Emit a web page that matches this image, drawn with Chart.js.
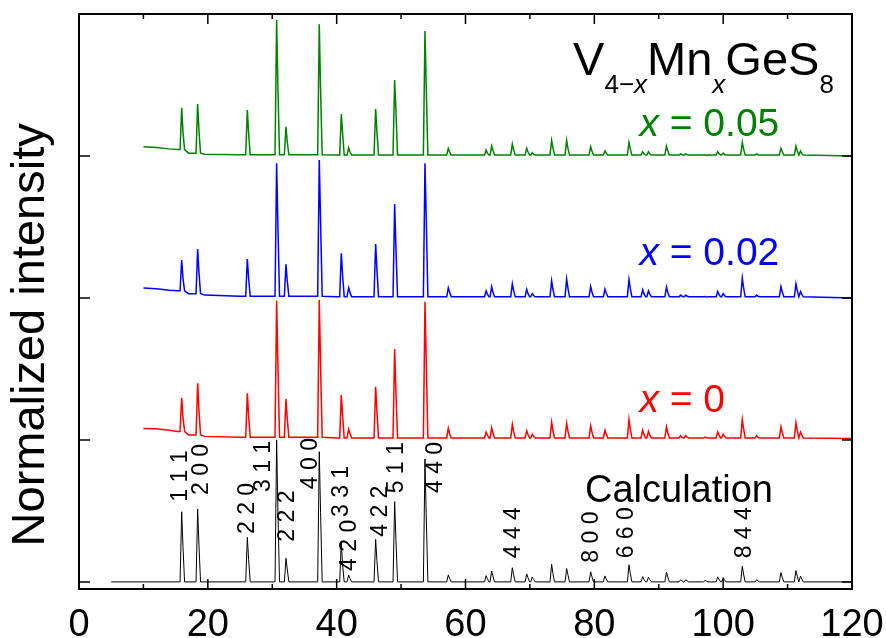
<!DOCTYPE html>
<html>
<head>
<meta charset="utf-8">
<script src="https://cdn.jsdelivr.net/npm/chart.js@4.4.0/dist/chart.umd.min.js"></script>
<style>
  html, body { margin: 0; padding: 0; background: #fff; }
</style>
</head>
<body>
<canvas id="xrd" width="886" height="638"></canvas>
<script>
// Bragg peak positions, 2theta (deg)
const twoTheta = [15.94, 18.42, 26.13, 30.68, 32.13, 37.30, 40.72, 41.86, 46.05, 49.00, 53.71, 57.33,
  63.20, 64.06, 67.27, 69.50, 70.37, 73.37, 75.70, 79.43, 81.65, 85.38, 87.50, 88.40, 91.20, 93.40,
  94.20, 97.20, 99.15, 100.00, 102.97, 105.20, 108.97, 111.30, 112.00];

// calculated pattern: peak top and K-alpha2 shoulder
const calcHeight = [0.494, 0.513, 0.314, 1.000, 0.166, 0.917, 0.283, 0.049, 0.300, 0.565, 0.866, 0.049,
  0.044, 0.077, 0.100, 0.056, 0.033, 0.124, 0.094, 0.071, 0.042, 0.120, 0.037, 0.033, 0.068, 0.015,
  0.015, 0.010, 0.035, 0.030, 0.110, 0.015, 0.065, 0.080, 0.040];
const calcShoulder = [0.25, 0.26, 0.16, 0.50, 0.09, 0.49, 0.12, 0.025, 0.15, 0.30, 0.45, 0.025,
  0.022, 0.04, 0.05, 0.03, 0.017, 0.06, 0.05, 0.036, 0.021, 0.06, 0.019, 0.017, 0.034, 0.008,
  0.008, 0.005, 0.018, 0.015, 0.055, 0.008, 0.033, 0.04, 0.02];

// x = 0.05
const x005Height = [0.340, 0.366, 0.324, 0.958, 0.206, 0.927, 0.296, 0.058, 0.331, 0.535, 0.880, 0.054,
  0.042, 0.070, 0.084, 0.054, 0.023, 0.110, 0.110, 0.065, 0.035, 0.096, 0.030, 0.030, 0.070, 0.015,
  0.015, 0.008, 0.030, 0.020, 0.096, 0.015, 0.054, 0.070, 0.035];
const x005Shoulder = [0.17, 0.18, 0.16, 0.48, 0.10, 0.47, 0.16, 0.03, 0.17, 0.324, 0.479, 0.03,
  0.02, 0.04, 0.045, 0.03, 0.012, 0.06, 0.055, 0.035, 0.02, 0.05, 0.016, 0.016, 0.037, 0.008,
  0.008, 0.004, 0.016, 0.01, 0.05, 0.008, 0.03, 0.037, 0.018];

// x = 0.02
const x002Height = [0.267, 0.345, 0.274, 0.948, 0.237, 0.971, 0.314, 0.072, 0.380, 0.662, 0.948, 0.072,
  0.050, 0.080, 0.100, 0.060, 0.030, 0.120, 0.134, 0.080, 0.063, 0.129, 0.058, 0.050, 0.077, 0.020,
  0.020, 0.010, 0.046, 0.030, 0.140, 0.020, 0.080, 0.100, 0.045];
const x002Shoulder = [0.14, 0.18, 0.14, 0.50, 0.12, 0.544, 0.16, 0.04, 0.20, 0.35, 0.549, 0.04,
  0.027, 0.042, 0.052, 0.032, 0.017, 0.063, 0.07, 0.042, 0.033, 0.067, 0.03, 0.027, 0.04, 0.012,
  0.012, 0.007, 0.025, 0.017, 0.073, 0.012, 0.042, 0.052, 0.025];

// x = 0
const x000Height = [0.297, 0.399, 0.328, 0.981, 0.288, 0.985, 0.316, 0.075, 0.375, 0.640, 0.973, 0.082,
  0.055, 0.085, 0.110, 0.065, 0.040, 0.125, 0.116, 0.100, 0.068, 0.144, 0.068, 0.060, 0.092, 0.030,
  0.030, 0.020, 0.057, 0.040, 0.144, 0.030, 0.092, 0.120, 0.055];
const x000Shoulder = [0.16, 0.21, 0.17, 0.52, 0.15, 0.53, 0.17, 0.045, 0.20, 0.34, 0.54, 0.045,
  0.033, 0.048, 0.06, 0.038, 0.025, 0.068, 0.063, 0.055, 0.039, 0.077, 0.039, 0.035, 0.051, 0.02,
  0.02, 0.015, 0.033, 0.025, 0.077, 0.02, 0.051, 0.065, 0.033];

// background levels of the measured scans
const bgAngle = [10, 12, 14, 15.3, 17, 19.5, 25, 40, 120];
const x005Bg = [0.065, 0.060, 0.050, 0.045, 0.020, 0.012, 0.008, 0.006, 0.000];
const x002Bg = [0.070, 0.065, 0.055, 0.050, 0.030, 0.020, 0.012, 0.008, 0.000];
const x000Bg = [0.080, 0.078, 0.068, 0.060, 0.035, 0.025, 0.018, 0.014, 0.010];
const calcBgAngle = [5, 120];
const calcBg = [0, 0];

const offsets = [3, 2, 1, 0];
const yTicks = [0, 1, 2, 3];

const hklText = ['1 1 1', '2 0 0', '2 2 0', '3 1 1', '2 2 2', '4 0 0', '3 3 1', '4 2 0', '4 2 2', '5 1 1',
  '4 4 0', '4 4 4', '8 0 0', '6 6 0', '8 4 4'];
const hklAngle = [15.94, 18.42, 26.13, 30.68, 32.13, 37.30, 40.72, 41.86, 46.05, 49.00, 53.71, 67.27,
  79.43, 85.38, 102.97];

const seriesText = ['0.05', '0.02', '0'];
const seriesColor = ['#008000', '#0000ff', '#ff0000'];

// turns a peak list into a polyline: foot, top, shoulder, foot
function buildPattern(offset, bgX, bgY, tops, shoulders) {
  const pts = bgX.map((a, i) => ({ x: a, y: offset + bgY[i] }));
  twoTheta.forEach((p, i) => {
    let k = 0;
    while (k + 1 < bgX.length && bgX[k + 1] <= p) k++;
    const foot = offset + bgY[k];
    pts.push({ x: p - 0.25, y: foot });
    pts.push({ x: p, y: offset + tops[i] });
    pts.push({ x: p + 0.2, y: offset + shoulders[i] });
    pts.push({ x: p + 0.45, y: foot });
  });
  return pts.sort((a, b) => a.x - b.x);
}

const FONT = "'Liberation Sans', Arial, sans-serif";
Chart.defaults.font.family = FONT;

function drawRuns(ctx, x, y, runs) {
  runs.forEach(r => {
    ctx.font = r.font;
    ctx.fillText(r.t, x, y + (r.dy || 0));
    x += ctx.measureText(r.t).width;
  });
}

// frame, inward ticks and annotations
const decor = {
  id: 'decor',
  afterDraw(chart) {
    const { ctx, chartArea: a, scales: { x, y } } = chart;
    ctx.save();
    ctx.strokeStyle = '#000';
    ctx.lineWidth = 1.5;
    ctx.beginPath();
    const majors = x.ticks.map(t => t.value);
    majors.forEach((v, i) => {
      const px = x.getPixelForValue(v);
      ctx.moveTo(px, a.bottom); ctx.lineTo(px, a.bottom - 10);
      ctx.moveTo(px, a.top); ctx.lineTo(px, a.top + 10);
      if (i < majors.length - 1) {
        const pm = x.getPixelForValue((v + majors[i + 1]) / 2);
        ctx.moveTo(pm, a.bottom); ctx.lineTo(pm, a.bottom - 5);
        ctx.moveTo(pm, a.top); ctx.lineTo(pm, a.top + 5);
      }
    });
    yTicks.forEach(v => {
      const py = y.getPixelForValue(v);
      ctx.moveTo(a.left, py); ctx.lineTo(a.left + 11, py);
      ctx.moveTo(a.right, py); ctx.lineTo(a.right - 10, py);
    });
    ctx.stroke();
    ctx.lineWidth = 2;
    ctx.strokeRect(a.left, a.top, a.right - a.left, a.bottom - a.top);

    // hkl labels of the calculated pattern
    const shift = [-1, 4, 0, -13, 2, -9, 0, 1, 5, 2, 11, 1, 1, -2, 2];
    const lift = [0.565, 0.612, 0.337, 0.633, 0.283, 0.653, 0.457, 0.077, 0.318, 0.624, 0.626, 0.166, 0.135, 0.166, 0.166];
    ctx.fillStyle = '#000';
    ctx.font = '23px ' + FONT;
    ctx.textAlign = 'left';
    ctx.textBaseline = 'middle';
    hklText.forEach((t, i) => {
      ctx.save();
      ctx.translate(x.getPixelForValue(hklAngle[i]) + shift[i], y.getPixelForValue(lift[i]));
      ctx.rotate(-Math.PI / 2);
      ctx.fillText(t, 0, 0);
      ctx.restore();
    });

    ctx.textBaseline = 'alphabetic';
    ctx.font = '38px ' + FONT;
    ctx.fillText('Calculation', x.getPixelForValue(78.55), y.getPixelForValue(0.565));

    const big = '47px ' + FONT, sub = '26px ' + FONT, subIt = 'italic 26px ' + FONT;
    drawRuns(ctx, x.getPixelForValue(76.7), y.getPixelForValue(3.57), [
      { t: 'V', font: big }, { t: '4\u2212', font: sub, dy: 18 }, { t: 'x', font: subIt, dy: 18 },
      { t: 'Mn', font: big }, { t: 'x', font: subIt, dy: 18 },
      { t: 'GeS', font: big }, { t: '8', font: sub, dy: 18 }
    ]);

    const base = [3.141, 2.232, 1.199];
    seriesText.forEach((t, i) => {
      ctx.fillStyle = seriesColor[i];
      drawRuns(ctx, x.getPixelForValue(87.0), y.getPixelForValue(base[i]), [
        { t: 'x', font: 'italic 39px ' + FONT }, { t: ' = ' + t, font: '39px ' + FONT }
      ]);
    });

    // axis title
    ctx.fillStyle = '#000';
    ctx.font = '47px ' + FONT;
    ctx.textAlign = 'center';
    ctx.textBaseline = 'middle';
    ctx.translate(31, (y.getPixelForValue(1.74)));
    ctx.rotate(-Math.PI / 2);
    ctx.fillText('Normalized intensity', 0, 0);
    ctx.restore();
  }
};

const line = (data, color, width) => ({
  data, borderColor: color, borderWidth: width, showLine: true, pointRadius: 0, tension: 0
});

new Chart(document.getElementById('xrd'), {
  type: 'scatter',
  data: {
    datasets: [
      line(buildPattern(offsets[0], bgAngle, x005Bg, x005Height, x005Shoulder), seriesColor[0], 1.5),
      line(buildPattern(offsets[1], bgAngle, x002Bg, x002Height, x002Shoulder), seriesColor[1], 1.5),
      line(buildPattern(offsets[2], bgAngle, x000Bg, x000Height, x000Shoulder), seriesColor[2], 1.5),
      line(buildPattern(offsets[3], calcBgAngle, calcBg, calcHeight, calcShoulder), '#000', 1)
    ]
  },
  options: {
    responsive: false,
    animation: false,
    layout: { padding: { left: 0, right: 34, top: 14, bottom: 0 } },
    plugins: { legend: { display: false }, tooltip: { enabled: false } },
    scales: {
      x: {
        type: 'linear', min: 0, max: 120,
        grid: { display: false, drawTicks: false },
        border: { display: false },
        ticks: { stepSize: 20, color: '#000', font: { size: 38 }, padding: 14 },
        afterFit(s) { s.height = 49; s.paddingLeft = 0; s.paddingRight = 0; }
      },
      y: {
        min: -0.05, max: 4,
        grid: { display: false, drawTicks: false },
        border: { display: false },
        ticks: { display: false },
        afterFit(s) { s.width = 79; s.paddingTop = 0; s.paddingBottom = 0; }
      }
    }
  },
  plugins: [decor]
});
</script>
</body>
</html>
